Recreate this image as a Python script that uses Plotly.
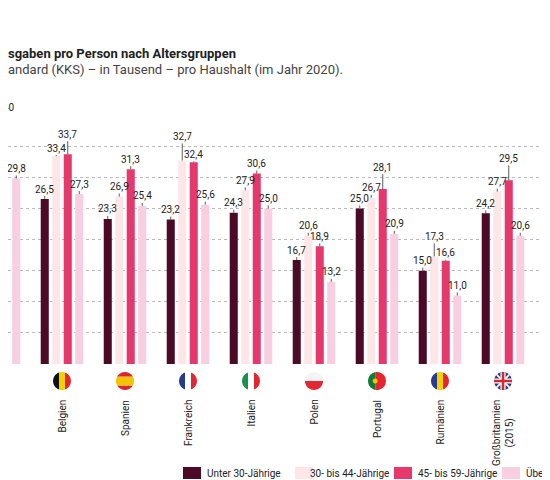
import numpy as np
import plotly.graph_objects as go

countries = ["", "Belgien", "Spanien", "Frankreich", "Italien", "Polen", "Portugal", "Rumänien", "Großbritannien<br>(2015)", ""]
flag_codes = [None, "be", "es", "fr", "it", "pl", "pt", "ro", "gb", None]
series_names = ["Unter 30-Jährige", "30- bis 44-Jährige", "45- bis 59-Jährige", "Über 60-Jährige"]
u30 = [None, 26.5, 23.3, 23.2, 24.3, 16.7, 25.0, 15.0, 24.2, None]
a30_44 = [None, 33.4, 26.9, 32.7, 27.9, 20.6, 26.7, 17.3, 27.7, None]
a45_59 = [None, 33.7, 31.3, 32.4, 30.6, 18.9, 28.1, 16.6, 29.5, None]
u60 = [29.8, 27.3, 25.4, 25.6, 25.0, 13.2, 20.9, 11.0, 20.6, None]
series = [u30, a30_44, a45_59, u60]
colors = ["#4b0b26", "#fde6e8", "#e5386c", "#f8cfe1"]
title = "sgaben pro Person nach Altersgruppen"
subtitle = "andard (KKS) – in Tausend – pro Haushalt (im Jahr 2020)."

FONT = "Roboto, sans-serif"
W, H = 550, 480
mt, mb = 107, 124
ph = H - mt - mb
bargap = 0.27
slot = (1 - bargap) / 4

# label connector lengths (px) for the two middle series, per country
lift_30_44 = [10, 8, 10, 24, 10, 10, 10, 20, 10, 10]
lift_45_59 = [10, 20, 10, 8, 10, 10, 22, 8, 22, 10]

fig = go.Figure()
x = list(range(len(countries)))
for name, vals, c in zip(series_names, series, colors):
    fig.add_bar(x=x, y=vals, name=name, marker_color=c, marker_line_width=0, showlegend=False)

for k, vals in enumerate(series):
    for i, v in enumerate(vals):
        if v is None:
            continue
        lift = 10
        if k == 1:
            lift = lift_30_44[i]
        elif k == 2:
            lift = lift_45_59[i]
        fig.add_annotation(x=i + (k - 1.5) * slot, y=v, xref="x", yref="y",
                           text=f"{v:.1f}".replace(".", ","), showarrow=True,
                           ax=0, ay=-lift, arrowhead=0, arrowwidth=0.8, arrowcolor="#333",
                           standoff=0, font=dict(family=FONT, size=10, color="#222"))

for i, c in enumerate(countries):
    if c:
        fig.add_annotation(x=i, y=-(390 - (H - mb)) / ph, xref="x", yref="paper", text=c,
                           textangle=-90, showarrow=False, yanchor="top", xanchor="center",
                           font=dict(family=FONT, size=10, color="#222"))

r = 9
def vstrip(x1, x2, n=20):
    xs = np.linspace(max(x1, -r), min(x2, r), n)
    top = [(xx, np.sqrt(max(r * r - xx * xx, 0))) for xx in xs]
    bot = [(xx, -np.sqrt(max(r * r - xx * xx, 0))) for xx in xs[::-1]]
    return top + bot
def hstrip(y1, y2):
    return [(b, a) for a, b in vstrip(y1, y2)]
def path(pts):
    return "M " + " L ".join(f"{px:.2f},{py:.2f}" for px, py in pts) + " Z"
fy = -(373 - (H - mb)) / ph
def add(i, pts, col):
    fig.add_shape(type="path", xref="x", yref="paper", xsizemode="pixel", ysizemode="pixel",
                  xanchor=i, yanchor=fy, path=path(pts), fillcolor=col, line_width=0, layer="above")
tri = {"be": ["#111", "#f5d000", "#e3262f"], "fr": ["#283c8f", "#ffffff", "#e3262f"],
       "it": ["#19924a", "#ffffff", "#e3262f"], "ro": ["#283c8f", "#f5d000", "#e3262f"]}
for i, code in enumerate(flag_codes):
    if code is None:
        continue
    if code in tri:
        for j, col in enumerate(tri[code]):
            add(i, vstrip(-r + j * 2 * r / 3, -r + (j + 1) * 2 * r / 3), col)
    elif code == "pl":
        add(i, hstrip(0, r), "#f4f4f4"); add(i, hstrip(-r, 0), "#e3262f")
    elif code == "es":
        add(i, hstrip(-r, -r / 2), "#d8262f"); add(i, hstrip(-r / 2, r / 2), "#f5c400"); add(i, hstrip(r / 2, r), "#d8262f")
    elif code == "pt":
        add(i, vstrip(-r, -r * 0.2), "#0d7a3a"); add(i, vstrip(-r * 0.2, r), "#e3262f")
        add(i, [(-r * 0.2 + 2.5 * np.cos(t), 2.5 * np.sin(t)) for t in np.linspace(0, 2 * np.pi, 16)], "#f5c400")
    elif code == "gb":
        add(i, vstrip(-r, r), "#283c8f")
        for d in (1, -1):
            pts = [(-6.5, -6.5 * d - 1.3), (6.5, 6.5 * d - 1.3), (6.5, 6.5 * d + 1.3), (-6.5, -6.5 * d + 1.3)]
            add(i, pts, "#ffffff")
        add(i, hstrip(-2.6, 2.6), "#ffffff"); add(i, vstrip(-2.6, 2.6), "#ffffff")
        add(i, hstrip(-1.3, 1.3), "#d8262f"); add(i, vstrip(-1.3, 1.3), "#d8262f")

leg_y = -(465 - (H - mb)) / ph
for (x0, tx), name, c in zip([(175, 197), (287, 300), (386, 408), (494, 516)], series_names, colors):
    fig.add_shape(type="rect", xref="paper", yref="paper", x0=x0 / W, x1=(x0 + 18) / W,
                  y0=leg_y - 6 / ph, y1=leg_y + 6 / ph, fillcolor=c, line_width=0)
    fig.add_annotation(x=tx / W, y=leg_y, xref="paper", yref="paper", text=name, showarrow=False,
                       xanchor="left", yanchor="middle", font=dict(family=FONT, size=10, color="#222"))

fig.add_annotation(x=0, y=(H - mb - 45) / ph, xref="paper", yref="paper", text=f"<b>{title}</b>",
                   showarrow=False, xanchor="left", yanchor="middle", xshift=-2,
                   font=dict(family=FONT, size=13, color="#222"))
fig.add_annotation(x=0, y=(H - mb - 62) / ph, xref="paper", yref="paper",
                   text=subtitle, showarrow=False, xanchor="left", yanchor="middle", xshift=-2,
                   font=dict(family=FONT, size=13, color="#444"))

y_ticks = [0, 5, 10, 15, 20, 25, 30, 35, 40]
fig.add_annotation(x=0, y=40, xref="paper", yref="y", text="40", showarrow=False, xanchor="left",
                   yanchor="bottom", xshift=-7, font=dict(family=FONT, size=10, color="#222"))

fig.update_layout(
    width=W, height=H, margin=dict(l=0, r=0, t=mt, b=mb),
    paper_bgcolor="white", plot_bgcolor="white", barmode="group",
    bargap=bargap, bargroupgap=0.3, font=dict(family=FONT),
    xaxis=dict(range=[1 - 54 / 63, 1 - 54 / 63 + W / 63], showticklabels=False, showgrid=False,
               zeroline=False, fixedrange=True),
    yaxis=dict(range=[0, 40], tickvals=y_ticks, showticklabels=False, showgrid=True,
               gridcolor="#bbb", griddash="dot", gridwidth=1, zeroline=False),
)
fig.write_html("out.html")
